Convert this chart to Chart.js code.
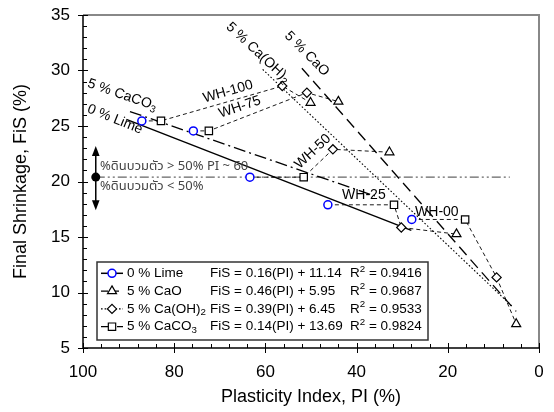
<!DOCTYPE html>
<html><head><meta charset="utf-8">
<script src="https://cdn.jsdelivr.net/npm/chart.js@4"></script>
<style>html,body{margin:0;padding:0;background:#fff}canvas{display:block}</style>
</head><body>
<canvas id="c" width="554" height="412"></canvas>
<script>
// ---- data ----
const limePI   = [87.1, 75.8, 63.4, 46.3, 27.9];
const limeFiS  = [25.46, 24.56, 20.39, 17.9, 16.58];
const caoPI    = [50.1, 44.0, 32.8, 18.1, 5.0];
const caoFiS   = [27.1, 27.2, 22.64, 15.26, 7.16];
const caoh2PI  = [56.3, 50.9, 45.2, 30.2, 9.3];
const caoh2FiS = [28.6, 28.0, 22.9, 15.86, 11.36];
const caco3PI  = [82.9, 72.4, 51.6, 31.8, 16.2];
const caco3FiS = [25.46, 24.56, 20.39, 17.9, 16.58];
const whLabels = ['WH-100', 'WH-75', 'WH-50', 'WH-25', 'WH-00'];

// fitted trend lines (end points)
const fitLimePI  = [90.5, 28.0];  const fitLimeFiS  = [25.6, 15.6];
const fitCaoPI   = [52.0, 5.0];   const fitCaoFiS   = [30.2, 8.3];
const fitCaoh2PI = [60.6, 6.0];   const fitCaoh2FiS = [30.1, 8.8];
const fitCaco3PI = [89.7, 36.0];  const fitCaco3FiS = [26.3, 18.7];

// 50 % swelling reference line
const refPI  = [97.2, 6.4];
const refFiS = [20.4, 20.4];

const xTicks = [0, 20, 40, 60, 80, 100];
const yTicks = [5, 10, 15, 20, 25, 30, 35];

const legendNames = ['0 % Lime', '5 % CaO', '5 % Ca(OH)', '5 % CaCO'];
const legendSubs  = ['', '', '2', '3'];
const legendEqs   = ['FiS = 0.16(PI) + 11.14', 'FiS = 0.46(PI) + 5.95', 'FiS = 0.39(PI) + 6.45', 'FiS = 0.14(PI) + 13.69'];
const legendR2    = ['0.9416', '0.9687', '0.9533', '0.9824'];

const swellText = ['%ดินบวมตัว > 50% PI ~ 60', '%ดินบวมตัว < 50%'];

// ---- helpers ----
const FONT = '"Liberation Sans", Arial, Helvetica, sans-serif';
const THAI = '"Noto Sans Thai", "Loma", "Garuda", "Liberation Sans", sans-serif';
const pts = (xs, ys) => xs.map((x, i) => ({x: x, y: ys[i]}));

const markerSets = [
  {label: legendNames[0], data: pts(limePI, limeFiS), pointStyle: 'circle', pointRadius: 4, pointBorderColor: '#0000ff', pointBorderWidth: 1.5},
  {label: legendNames[1], data: pts(caoPI, caoFiS), pointStyle: 'triangle', pointRadius: 5.2, pointBorderColor: '#000', pointBorderWidth: 1.2},
  {label: legendNames[2], data: pts(caoh2PI, caoh2FiS), pointStyle: 'rectRot', pointRadius: 4.6, pointBorderColor: '#000', pointBorderWidth: 1.2},
  {label: legendNames[3], data: pts(caco3PI, caco3FiS), pointStyle: 'rect', pointRadius: 5.2, pointBorderColor: '#000', pointBorderWidth: 1.2}
].map(d => Object.assign(d, {showLine: false, pointBackgroundColor: '#fff', pointHoverRadius: d.pointRadius}));

const whSets = whLabels.map((lab, i) => ({
  label: lab,
  data: [{x: limePI[i], y: limeFiS[i]}, {x: caco3PI[i], y: caco3FiS[i]}, {x: caoh2PI[i], y: caoh2FiS[i]}, {x: caoPI[i], y: caoFiS[i]}],
  showLine: true, borderColor: '#000', borderWidth: 0.9, borderDash: [4, 3], pointRadius: 0, pointHoverRadius: 0
}));

const fitStyles = [
  {data: pts(fitLimePI, fitLimeFiS), borderWidth: 1.5, borderDash: []},
  {data: pts(fitCaoPI, fitCaoFiS), borderWidth: 1.3, borderDash: [11, 6]},
  {data: pts(fitCaoh2PI, fitCaoh2FiS), borderWidth: 1.1, borderDash: [1.6, 2]},
  {data: pts(fitCaco3PI, fitCaco3FiS), borderWidth: 1.3, borderDash: [12, 4, 2, 4]}
];
const fitSets = fitStyles.map(f => Object.assign({showLine: true, borderColor: '#000', pointRadius: 0, pointHoverRadius: 0}, f));

const refSet = {data: pts(refPI, refFiS), showLine: true, borderColor: '#666', borderWidth: 1.2, borderDash: [9, 3, 2, 3, 2, 3], pointRadius: 0, pointHoverRadius: 0};

function drawParts(ctx, parts, size, family) {
  let x = 0;
  parts.forEach(p => {
    if (p.sub) {
      ctx.font = (size * 0.72) + 'px ' + family;
      ctx.fillText(p.t, x, size * 0.28);
    } else if (p.sup) {
      ctx.font = (size * 0.72) + 'px ' + family;
      ctx.fillText(p.t, x, -size * 0.32);
    } else {
      ctx.font = size + 'px ' + family;
      ctx.fillText(p.t, x, 0);
    }
    x += ctx.measureText(p.t).width;
  });
  return x;
}
function measureParts(ctx, parts, size, family) {
  let w = 0;
  parts.forEach(p => {
    ctx.font = ((p.sub || p.sup) ? size * 0.72 : size) + 'px ' + family;
    w += ctx.measureText(p.t).width;
  });
  return w;
}
function rotText(ctx, parts, cx, cy, deg, size, color) {
  ctx.save();
  ctx.translate(cx, cy);
  ctx.rotate(deg * Math.PI / 180);
  ctx.fillStyle = color || '#000';
  ctx.textBaseline = 'middle';
  ctx.textAlign = 'left';
  const w = measureParts(ctx, parts, size, FONT);
  ctx.translate(-w / 2, 0);
  drawParts(ctx, parts, size, FONT);
  ctx.restore();
}

const decor = {
  id: 'decor',
  afterDatasetsDraw(chart) {
    const ctx = chart.ctx, xs = chart.scales.x, ys = chart.scales.y, ca = chart.chartArea;
    const X = v => xs.getPixelForValue(v), Y = v => ys.getPixelForValue(v);

    // rotated / free labels
    rotText(ctx, [{t: '5 % CaCO'}, {t: '3', sub: true}], X(91.4), Y(27.8), 19, 14);
    rotText(ctx, [{t: '0 % Lime'}], X(93.0), Y(25.6), 22, 14);
    rotText(ctx, [{t: '5 % Ca(OH)'}, {t: '2', sub: true}], X(61.6), Y(31.6), 43, 14);
    rotText(ctx, [{t: '5 % CaO'}], X(50.9), Y(31.5), 45, 14);
    rotText(ctx, [{t: 'WH-100'}], X(68.2), Y(28.1), -16, 14);
    rotText(ctx, [{t: 'WH-75'}], X(65.6), Y(26.7), -19, 14);
    rotText(ctx, [{t: 'WH-50'}], X(49.6), Y(22.7), -43, 14);
    rotText(ctx, [{t: 'WH-25'}], X(38.4), Y(18.8), 0, 14);
    rotText(ctx, [{t: 'WH-00'}], X(22.4), Y(17.2), 0, 14);

    // swelling annotation
    ctx.save();
    ctx.fillStyle = '#444';
    ctx.font = '13px ' + THAI;
    ctx.textBaseline = 'middle';
    ctx.textAlign = 'left';
    ctx.fillText(swellText[0], ca.left + 17, Y(21.3));
    ctx.fillText(swellText[1], ca.left + 17, Y(19.5));
    const ax = X(refPI[0]);
    const yt = Y(23.2), yb = Y(17.4);
    ctx.strokeStyle = '#000'; ctx.fillStyle = '#000'; ctx.lineWidth = 1.5;
    ctx.beginPath(); ctx.moveTo(ax, yt + 8); ctx.lineTo(ax, yb - 8); ctx.stroke();
    ctx.beginPath(); ctx.moveTo(ax, yt); ctx.lineTo(ax - 3.8, yt + 10); ctx.lineTo(ax + 3.8, yt + 10); ctx.closePath(); ctx.fill();
    ctx.beginPath(); ctx.moveTo(ax, yb); ctx.lineTo(ax - 3.8, yb - 10); ctx.lineTo(ax + 3.8, yb - 10); ctx.closePath(); ctx.fill();
    ctx.beginPath(); ctx.arc(ax, Y(refFiS[0]), 4.5, 0, Math.PI * 2); ctx.fill();
    ctx.restore();

    // legend box
    ctx.save();
    const bx0 = ca.left + 14, by1 = ca.bottom - 8, bx1 = bx0 + 331, by0 = by1 - 78;
    ctx.fillStyle = '#fff';
    ctx.fillRect(bx0, by0, bx1 - bx0, by1 - by0);
    ctx.strokeStyle = '#333'; ctx.lineWidth = 1.5;
    ctx.strokeRect(bx0, by0, bx1 - bx0, by1 - by0);
    ctx.textBaseline = 'middle'; ctx.textAlign = 'left'; ctx.fillStyle = '#000';
    for (let i = 0; i < 4; i++) {
      const cy = by0 + 11.3 + i * 17.8;
      const ms = markerSets[i];
      ctx.save();
      ctx.strokeStyle = '#000';
      ctx.lineWidth = fitStyles[i].borderWidth;
      ctx.setLineDash(i === 1 ? [7, 4] : (i === 2 ? [1.6, 2] : (i === 3 ? [8, 3, 2, 3] : [])));
      ctx.beginPath(); ctx.moveTo(bx0 + 4, cy); ctx.lineTo(bx0 + 26, cy); ctx.stroke();
      ctx.restore();
      ctx.save();
      ctx.strokeStyle = ms.pointBorderColor; ctx.fillStyle = '#fff'; ctx.lineWidth = ms.pointBorderWidth;
      Chart.helpers.drawPoint(ctx, {pointStyle: ms.pointStyle, radius: ms.pointRadius, rotation: 0, borderWidth: ms.pointBorderWidth}, bx0 + 15, cy);
      ctx.restore();
      ctx.fillStyle = '#000';
      ctx.save(); ctx.translate(bx0 + 30, cy);
      drawParts(ctx, legendSubs[i] ? [{t: legendNames[i]}, {t: legendSubs[i], sub: true}] : [{t: legendNames[i]}], 13.5, FONT);
      ctx.restore();
      ctx.font = '13.5px ' + FONT;
      ctx.fillText(legendEqs[i], bx0 + 113, cy);
      ctx.save(); ctx.translate(bx0 + 253, cy);
      drawParts(ctx, [{t: 'R'}, {t: '2', sup: true}, {t: ' = ' + legendR2[i]}], 13.5, FONT);
      ctx.restore();
    }
    ctx.restore();

    // frame and ticks
    ctx.save();
    ctx.lineCap = 'butt';
    ctx.strokeStyle = '#888'; ctx.lineWidth = 2;
    ctx.beginPath(); ctx.moveTo(ca.left, ca.top); ctx.lineTo(ca.right, ca.top); ctx.lineTo(ca.right, ca.bottom); ctx.stroke();
    ctx.strokeStyle = '#000'; ctx.lineWidth = 1.5;
    ctx.beginPath(); ctx.moveTo(ca.left, ca.top); ctx.lineTo(ca.left, ca.bottom); ctx.lineTo(ca.right, ca.bottom); ctx.stroke();
    ctx.lineWidth = 1;
    ctx.beginPath();
    for (let v = 0; v <= 100; v += 4) {
      const px = Math.round(X(v)) + 0.5;
      if (v % 20 === 0) { ctx.moveTo(px, ca.bottom + 5); ctx.lineTo(px, ca.bottom - 5); }
      else { ctx.moveTo(px, ca.bottom); ctx.lineTo(px, ca.bottom - 4); }
    }
    for (let v = 5; v <= 35; v += 1) {
      const py = Math.round(Y(v)) + 0.5;
      if (v % 5 === 0) { ctx.moveTo(ca.left - 5, py); ctx.lineTo(ca.left + 5, py); }
      else { ctx.moveTo(ca.left, py); ctx.lineTo(ca.left + 4, py); }
    }
    ctx.stroke();
    ctx.restore();
  }
};

new Chart(document.getElementById('c'), {
  type: 'scatter',
  data: {datasets: [...markerSets, ...whSets, ...fitSets, refSet]},
  options: {
    responsive: false, animation: false, devicePixelRatio: 1,
    layout: {padding: {top: 15, right: 15, left: 0, bottom: 0}},
    plugins: {legend: {display: false}, tooltip: {enabled: false}},
    scales: {
      x: {
        type: 'linear', reverse: true, min: 0, max: 100,
        afterBuildTicks: s => { s.ticks = xTicks.map(v => ({value: v})); },
        ticks: {font: {size: 17, family: FONT}, color: '#000', padding: 14, maxRotation: 0, autoSkip: false},
        grid: {display: false, drawTicks: false}, border: {display: false},
        title: {display: true, text: 'Plasticity Index, PI (%)', color: '#000', font: {size: 18, family: FONT}, padding: {top: 0, bottom: 4}},
        afterFit: s => { s.height = 64; s.paddingLeft = 0; s.paddingRight = 0; }
      },
      y: {
        type: 'linear', min: 5, max: 35,
        afterBuildTicks: s => { s.ticks = yTicks.map(v => ({value: v})); },
        ticks: {font: {size: 17, family: FONT}, color: '#000', padding: 13, autoSkip: false},
        grid: {display: false, drawTicks: false}, border: {display: false},
        title: {display: true, text: 'Final Shrinkage, FiS (%)', color: '#000', font: {size: 18, family: FONT}, padding: {top: 10, bottom: 0}},
        afterFit: s => { s.width = 83; s.paddingTop = 0; s.paddingBottom = 0; }
      }
    }
  },
  plugins: [decor]
});
</script>
</body></html>
